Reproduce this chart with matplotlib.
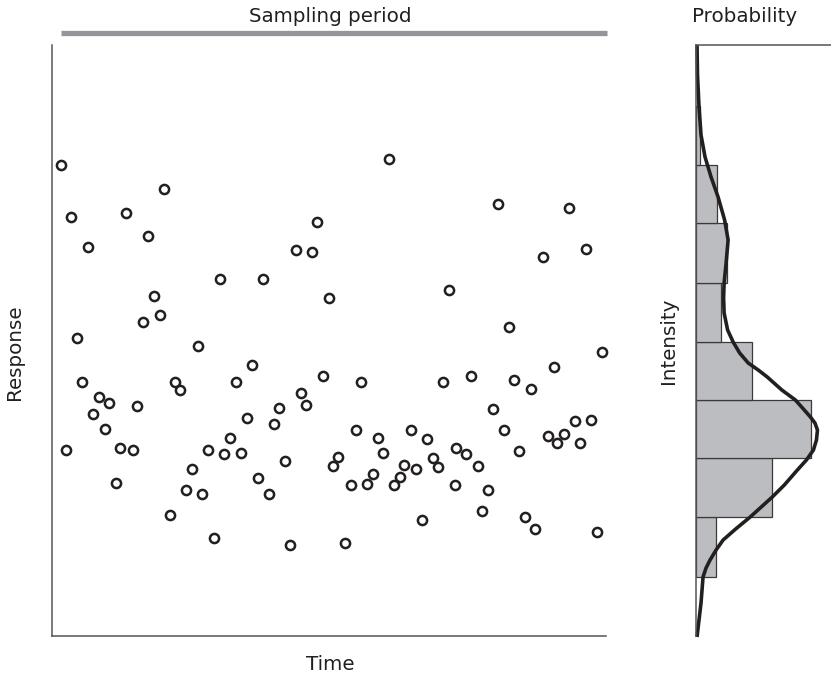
import numpy as np
import matplotlib
matplotlib.use('Agg')
import matplotlib.pyplot as plt
from matplotlib.lines import Line2D

# 산점도 데이터 (시간, 반응) - 임의 단위
time = [14, 24, 41, 30, 19, 35, 46, 52, 58, 62, 73, 69, 79, 86, 90, 96, 101, 107, 113, 117,
        123, 128, 133, 139, 145, 151, 155, 161, 167, 173, 177, 183, 189, 194, 200, 205, 211, 216, 222, 227,
        232, 238, 243, 249, 254, 259, 265, 270, 276, 282, 286, 291, 298, 304, 309, 314, 320, 326, 331, 336,
        342, 347, 353, 357, 364, 369, 375, 380, 386, 391, 396, 402, 408, 409, 419, 424, 431, 435, 441, 446,
        451, 457, 462, 467, 472, 478, 484, 488, 496, 501, 507, 510, 517, 522, 528, 533, 539, 544, 550, 555]
response = [470, 418, 388, 297, 185, 253, 221, 238, 206, 232, 187, 152, 422, 185, 229, 313, 399, 339, 320, 446,
            120, 253, 245, 145, 166, 289, 141, 185, 97, 356, 181, 197, 253, 182, 217, 270, 157, 356, 141, 211,
            227, 174, 90, 385, 242, 230, 383, 413, 259, 337, 169, 178, 92, 150, 205, 253, 151, 161, 197, 182,
            476, 150, 158, 170, 205, 166, 115, 196, 177, 168, 253, 345, 150, 187, 181, 259, 169, 124, 145, 226,
            431, 205, 308, 255, 184, 118, 246, 106, 378, 199, 268, 192, 201, 427, 214, 192, 386, 215, 103, 283]

# 히스토그램 (반응 구간 경계, 확률)
bin_edges = [58, 118, 177, 235, 293, 352, 412, 470, 529]
bin_prob = [0.041, 0.152, 0.230, 0.112, 0.050, 0.062, 0.042, 0.009]

# 밀도 곡선 (반응, 확률) - 그림에서 읽은 점
curve_resp = [-2, 15, 32, 45, 58, 67, 75, 85, 95, 106, 118, 128, 138, 150, 165, 175, 185, 195, 205,
              212, 218, 226, 235, 245, 258, 265, 272, 282, 293, 305, 322, 337, 352, 372, 395,
              415, 438, 458, 478, 500, 528, 560, 590]
curve_prob = [0.003, 0.007, 0.011, 0.013, 0.015, 0.021, 0.029, 0.041, 0.055, 0.080, 0.109, 0.131,
              0.153, 0.177, 0.203, 0.221, 0.235, 0.241, 0.243, 0.238, 0.229, 0.215, 0.199, 0.172,
              0.143, 0.125, 0.105, 0.088, 0.075, 0.064, 0.057, 0.056, 0.057, 0.061, 0.065,
              0.058, 0.045, 0.031, 0.019, 0.011, 0.007, 0.004, 0.003]

W, H = 831, 678
fig = plt.figure(figsize=(W / 100, H / 100), dpi=100)

txt = dict(fontsize=14.3, color='#231f20', family='DejaVu Sans')

# 왼쪽 산점도
ax = fig.add_axes([52 / W, (H - 636) / H, 554 / W, 591 / H])
ax.plot(time, response, 'o', ms=6.6, mfc='white', mec='#231f20', mew=1.8, clip_on=False)
ax.set_xlim(5, 559)
ax.set_ylim(-1, 590)
for s in ['top', 'right']:
    ax.spines[s].set_visible(False)
for s in ['left', 'bottom']:
    ax.spines[s].set_color('#555555')
    ax.spines[s].set_linewidth(1.1)
ax.set_xticks([])
ax.set_yticks([])

# 샘플링 구간 막대
fig.add_artist(Line2D([61 / W, 607 / W], [1 - 33 / H, 1 - 33 / H], color='#939598', lw=3.8,
                      solid_capstyle='butt'))
fig.text(330 / W, 1 - 17 / H, 'Sampling period', ha='center', va='center', **txt)
fig.text(330 / W, 1 - 665 / H, 'Time', ha='center', va='center', **txt)
fig.text(15 / W, 1 - 352 / H, 'Response', ha='center', va='center', rotation=90, **txt)

# 오른쪽 히스토그램
ax2 = fig.add_axes([695.5 / W, (H - 636) / H, (W - 695.5) / W, 591 / H])
heights = np.diff(bin_edges)
ax2.barh(bin_edges[:-1], bin_prob, height=heights, align='edge', color='#bcbdc0',
         edgecolor='#3a3a3a', linewidth=0.9)
ax2.plot(curve_prob, curve_resp, color='#231f20', lw=2.6, solid_joinstyle='round',
         solid_capstyle='butt', clip_on=False)
ax2.set_xlim(0, 0.27)
ax2.set_ylim(-1, 590)
for s in ['bottom', 'right']:
    ax2.spines[s].set_visible(False)
for s in ['left', 'top']:
    ax2.spines[s].set_color('#555555')
    ax2.spines[s].set_linewidth(1.1)
ax2.set_xticks([])
ax2.set_yticks([])

fig.text(745 / W, 1 - 17 / H, 'Probability', ha='center', va='center', **txt)
fig.text(668 / W, 1 - 341 / H, 'Intensity', ha='center', va='center', rotation=90, **txt)

fig.savefig('out.png', dpi=100)
